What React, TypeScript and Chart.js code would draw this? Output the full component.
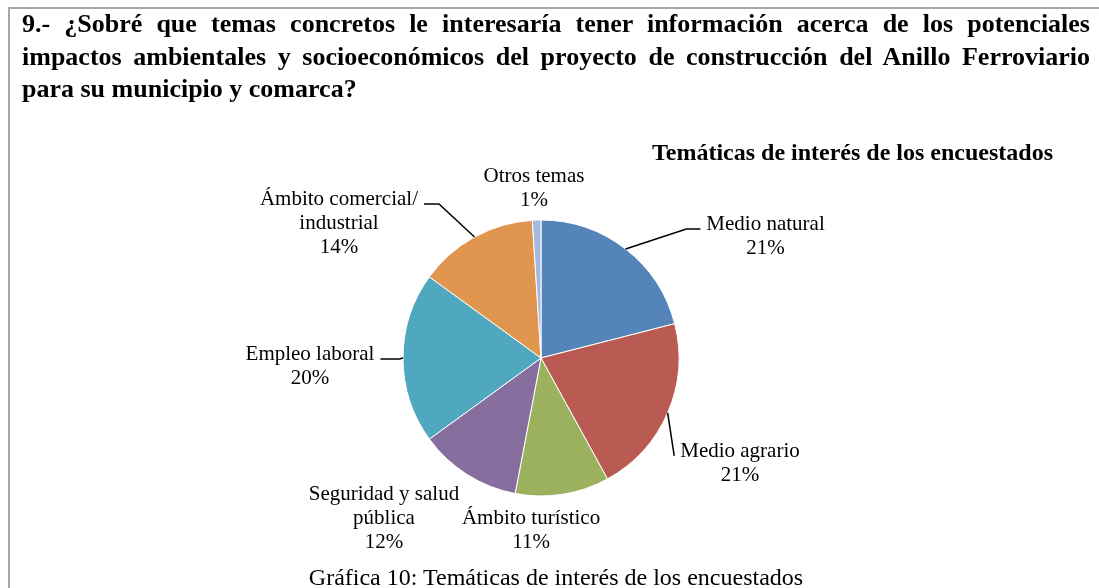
import React, { useEffect, useRef } from "react";
import { Chart, registerables } from "chart.js";

Chart.register(...registerables);

// ---- data ----
const categories = [
  "Medio natural",
  "Medio agrario",
  "Ámbito turístico",
  "Seguridad y salud pública",
  "Empleo laboral",
  "Ámbito comercial/ industrial",
  "Otros temas",
];
const labelLines: string[][] = [
  ["Medio natural"],
  ["Medio agrario"],
  ["Ámbito turístico"],
  ["Seguridad y salud", "pública"],
  ["Empleo laboral"],
  ["Ámbito comercial/", "industrial"],
  ["Otros temas"],
];
const percentages = [21, 21, 11, 12, 20, 14, 1];

// ---- styling / layout (kept apart from data) ----
const sliceColors = ["#5585B8", "#BA5B53", "#9BB15E", "#866E9F", "#4FA8C0", "#E1964F", "#A6B9DE"];
// label anchor: text centre x and first baseline, in pie radii from the pie centre
const labelOffsets: [number, number][] = [
  [1.627, -0.928],
  [1.442, 0.717],
  [-0.072, 1.203],
  [-1.138, 1.029],
  [-1.674, 0.014],
  [-1.464, -1.109],
  [-0.051, -1.275],
];
// horizontal run of the leader line next to the label (null = no leader)
const leaderRuns: (number | null)[] = [14, 0, null, null, 19, 15, null];

const LABEL_FONT = '21px "Liberation Serif"';
const LINE_H = 24;
const GAP = 6;

const labelPlugin = {
  id: "pieLabels",
  afterDatasetsDraw(chart: any) {
    const ctx = chart.ctx as CanvasRenderingContext2D;
    const meta = chart.getDatasetMeta(0);
    const total = percentages.reduce((a, b) => a + b, 0);
    ctx.save();
    ctx.font = LABEL_FONT;
    ctx.fillStyle = "#000";
    ctx.strokeStyle = "#000";
    ctx.lineWidth = 1.5;
    ctx.textAlign = "center";
    ctx.textBaseline = "alphabetic";
    meta.data.forEach((arc: any, i: number) => {
      const { x, y, startAngle, endAngle, outerRadius } = arc.getProps(
        ["x", "y", "startAngle", "endAngle", "outerRadius"],
        true
      );
      const lines = [...labelLines[i], Math.round((percentages[i] / total) * 100) + "%"];
      const cx = x + labelOffsets[i][0] * outerRadius;
      const by = y + labelOffsets[i][1] * outerRadius;
      lines.forEach((t, k) => ctx.fillText(t, cx, by + k * LINE_H));
      const run = leaderRuns[i];
      if (run !== null) {
        const mid = (startAngle + endAngle) / 2;
        const ax = x + Math.cos(mid) * outerRadius;
        const ay = y + Math.sin(mid) * outerRadius;
        const w = ctx.measureText(lines[0]).width;
        const onRight = cx > x;
        const ex = onRight ? cx - w / 2 - GAP : cx + w / 2 + GAP;
        const ey = by - 1;
        const kx = onRight ? ex - run : ex + run;
        ctx.beginPath();
        ctx.moveTo(ex, ey);
        ctx.lineTo(kx, ey);
        ctx.lineTo(ax, ay);
        ctx.stroke();
      }
    });
    ctx.restore();
  },
};

export default function App() {
  const canvasRef = useRef<HTMLCanvasElement | null>(null);

  useEffect(() => {
    if (!canvasRef.current) return;
    const chart = new Chart(canvasRef.current, {
      type: "pie",
      data: {
        labels: categories,
        datasets: [
          {
            data: percentages,
            backgroundColor: sliceColors,
            borderColor: "#ffffff",
            borderWidth: 1,
            radius: 138,
          } as any,
        ],
      },
      options: {
        responsive: false,
        animation: false,
        layout: { padding: { left: 341, right: 358, top: 208, bottom: 80 } },
        plugins: {
          legend: { display: false },
          tooltip: { enabled: false },
          title: { display: false },
        },
      },
      plugins: [labelPlugin],
    });
    return () => chart.destroy();
  }, []);

  const serif = '"Liberation Serif", "Times New Roman", serif';

  return (
    <div
      style={{
        position: "fixed",
        left: 0,
        top: 0,
        width: 1099,
        height: 588,
        overflow: "hidden",
        background: "#fff",
        fontFamily: serif,
        color: "#000",
      }}
    >
      <div
        style={{
          position: "absolute",
          left: 8,
          top: 7,
          width: 1200,
          height: 700,
          borderLeft: "2px solid #a6a6a6",
          borderTop: "2px solid #a6a6a6",
        }}
      />
      <canvas
        ref={canvasRef}
        width={1099}
        height={588}
        style={{ position: "absolute", left: 0, top: 0, width: 1099, height: 588 }}
      />
      <div
        style={{
          position: "absolute",
          left: 22,
          top: 8,
          width: 1068,
          fontWeight: "bold",
          fontSize: 26,
          lineHeight: "32.5px",
        }}
      >
        <div style={{ textAlign: "justify", textAlignLast: "justify", whiteSpace: "nowrap" } as any}>
          9.- ¿Sobré que temas concretos le interesaría tener información acerca de los potenciales
        </div>
        <div style={{ textAlign: "justify", textAlignLast: "justify", whiteSpace: "nowrap" } as any}>
          impactos ambientales y socioeconómicos del proyecto de construcción del Anillo Ferroviario
        </div>
        <div style={{ whiteSpace: "nowrap" }}>para su municipio y comarca?</div>
      </div>
      <div
        style={{
          position: "absolute",
          left: 552,
          top: 140,
          width: 601,
          textAlign: "center",
          fontWeight: "bold",
          fontSize: 24,
          lineHeight: "24px",
          whiteSpace: "nowrap",
        }}
      >
        Temáticas de interés de los encuestados
      </div>
      <div
        style={{
          position: "absolute",
          left: 256,
          top: 565,
          width: 600,
          textAlign: "center",
          fontSize: 24,
          lineHeight: "24px",
          whiteSpace: "nowrap",
        }}
      >
        Gráfica 10: Temáticas de interés de los encuestados
      </div>
    </div>
  );
}
